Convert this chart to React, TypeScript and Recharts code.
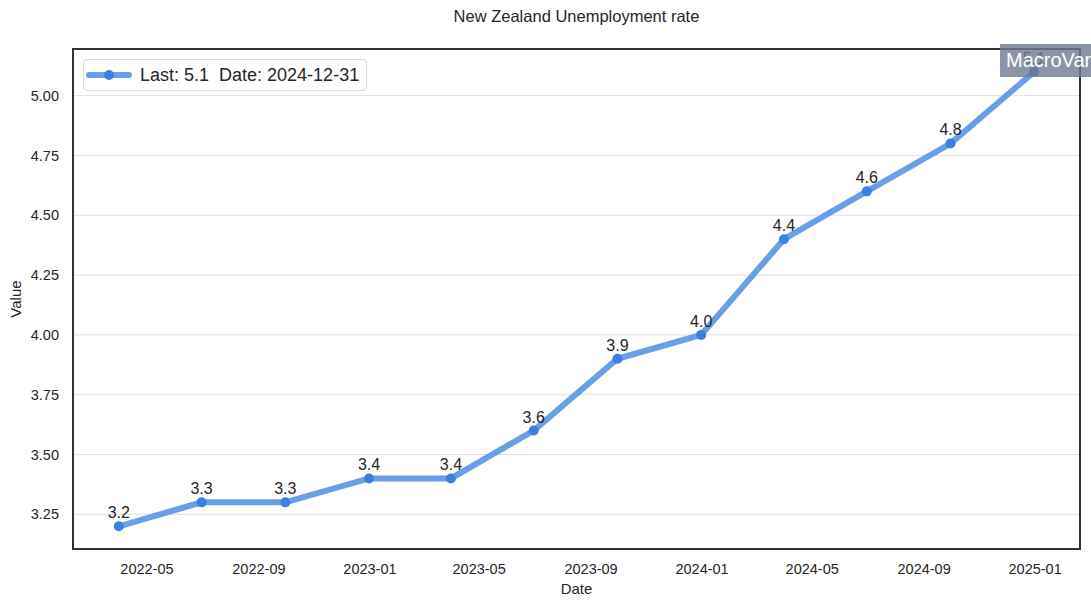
import React, { useEffect } from "react";
import { LineChart, Line, XAxis, YAxis, CartesianGrid, LabelList, ReferenceArea } from "recharts";

const dates = [
  "2022-03-31", "2022-06-30", "2022-09-30", "2022-12-31",
  "2023-03-31", "2023-06-30", "2023-09-30", "2023-12-31",
  "2024-03-31", "2024-06-30", "2024-09-30", "2024-12-31",
];
const values = [3.2, 3.3, 3.3, 3.4, 3.4, 3.6, 3.9, 4.0, 4.4, 4.6, 4.8, 5.1];
const xTickDates = [
  "2022-05-01", "2022-09-01", "2023-01-01", "2023-05-01", "2023-09-01",
  "2024-01-01", "2024-05-01", "2024-09-01", "2025-01-01",
];
const yTicks = [3.25, 3.5, 3.75, 4.0, 4.25, 4.5, 4.75, 5.0];

const toTime = (s: string) => {
  const [y, m, d] = s.split("-").map(Number);
  return Date.UTC(y, m - 1, d);
};

const data = dates.map((d, i) => ({ t: toTime(d), value: values[i] }));
const xTicks = xTickDates.map(toTime);

const tMin = data[0].t;
const tMax = data[data.length - 1].t;
const tPad = (tMax - tMin) * 0.05;
const xDomain: [number, number] = [tMin - tPad, tMax + tPad];
const vMin = Math.min(...values);
const vMax = Math.max(...values);
const vPad = (vMax - vMin) * 0.05;
const yDomain: [number, number] = [vMin - vPad, vMax + vPad];

const FONT = "'Liberation Sans', Arial, sans-serif";
const LINE = "#6a9fe8";
const DOT = "#3d7fe0";
const TEXT = "#262626";

const fmtDate = (t: number) => {
  const d = new Date(t);
  return `${d.getUTCFullYear()}-${String(d.getUTCMonth() + 1).padStart(2, "0")}`;
};

function YLabel(props: any) {
  const vb = props.viewBox || { y: 49, height: 500 };
  const cx = 15;
  const cy = vb.y + vb.height / 2;
  return (
    <text
      x={cx}
      y={cy}
      transform={`rotate(-90 ${cx} ${cy})`}
      textAnchor="middle"
      dominantBaseline="central"
      fill={TEXT}
      fontSize={15}
      fontFamily={FONT}
    >
      Value
    </text>
  );
}

function LegendBox() {
  const last = values[values.length - 1];
  const lastDate = dates[dates.length - 1];
  return (
    <div
      style={{
        position: "absolute",
        top: 59,
        left: 83,
        display: "flex",
        alignItems: "center",
        border: "1px solid #d9d9d9",
        borderRadius: 4,
        background: "rgba(255,255,255,0.85)",
        height: 32,
        width: 284,
        boxSizing: "border-box",
        fontFamily: FONT,
        fontSize: 18,
        color: TEXT,
      }}
    >
      <svg width={52} height={30} style={{ flex: "none" }}>
        <line x1={5} x2={45} y1={15} y2={15} stroke={LINE} strokeWidth={6} strokeLinecap="round" />
        <circle cx={25} cy={15} r={5} fill={DOT} />
      </svg>
      <span style={{ whiteSpace: "pre", marginLeft: 4 }}>{`Last: ${last.toFixed(1)}  Date: ${lastDate}`}</span>
    </div>
  );
}

export default function App() {
  useEffect(() => {
    document.body.style.margin = "0";
  }, []);

  return (
    <div style={{ position: "relative", width: 1091, height: 608, background: "#fff", fontFamily: FONT, overflow: "hidden" }}>
      <div
        style={{
          position: "absolute",
          top: 7,
          left: 73,
          width: 1007,
          textAlign: "center",
          fontSize: 16.5,
          color: TEXT,
        }}
      >
        New Zealand Unemployment rate
      </div>
      <LineChart width={1091} height={608} data={data} margin={{ top: 49, right: 11, left: 0, bottom: 0 }}>
        <CartesianGrid vertical={false} stroke="#e0e0e0" strokeWidth={1} />
        <XAxis
          dataKey="t"
          type="number"
          domain={xDomain}
          ticks={xTicks}
          tickFormatter={fmtDate}
          allowDataOverflow
          height={59}
          axisLine={{ stroke: "#333", strokeWidth: 2 }}
          tickLine={false}
          tickSize={6}
          tickMargin={9}
          tick={{ fill: TEXT, fontSize: 14.5, fontFamily: FONT }}
          label={{ value: "Date", position: "insideBottom", offset: 14, fill: TEXT, fontSize: 15, fontFamily: FONT }}
        />
        <YAxis
          type="number"
          domain={yDomain}
          ticks={yTicks}
          allowDataOverflow
          tickFormatter={(v: number) => v.toFixed(2)}
          width={73}
          axisLine={{ stroke: "#333", strokeWidth: 2 }}
          tickLine={false}
          tickSize={6}
          tickMargin={8}
          tick={{ fill: TEXT, fontSize: 14.5, fontFamily: FONT }}
          label={<YLabel />}
        />
        <ReferenceArea
          x1={xDomain[0]}
          x2={xDomain[1]}
          y1={yDomain[0]}
          y2={yDomain[1]}
          fill="none"
          stroke="#333"
          strokeWidth={2}
          ifOverflow="visible"
        />
        <Line
          dataKey="value"
          stroke={LINE}
          strokeWidth={6}
          dot={{ r: 5, fill: DOT, stroke: DOT, strokeWidth: 0 }}
          activeDot={false}
          isAnimationActive={false}
        >
          <LabelList
            dataKey="value"
            position="top"
            offset={8}
            formatter={(v: number) => v.toFixed(1)}
            style={{ fill: TEXT, fontSize: 16, fontFamily: FONT }}
          />
        </Line>
      </LineChart>
      <LegendBox />
      <div
        style={{
          position: "absolute",
          top: 44,
          left: 1000,
          width: 110,
          height: 33,
          background: "rgba(110,122,145,0.8)",
          color: "#fff",
          fontSize: 20,
          lineHeight: "33px",
          paddingLeft: 6,
          boxSizing: "border-box",
          whiteSpace: "nowrap",
        }}
      >
        MacroVar
      </div>
    </div>
  );
}
